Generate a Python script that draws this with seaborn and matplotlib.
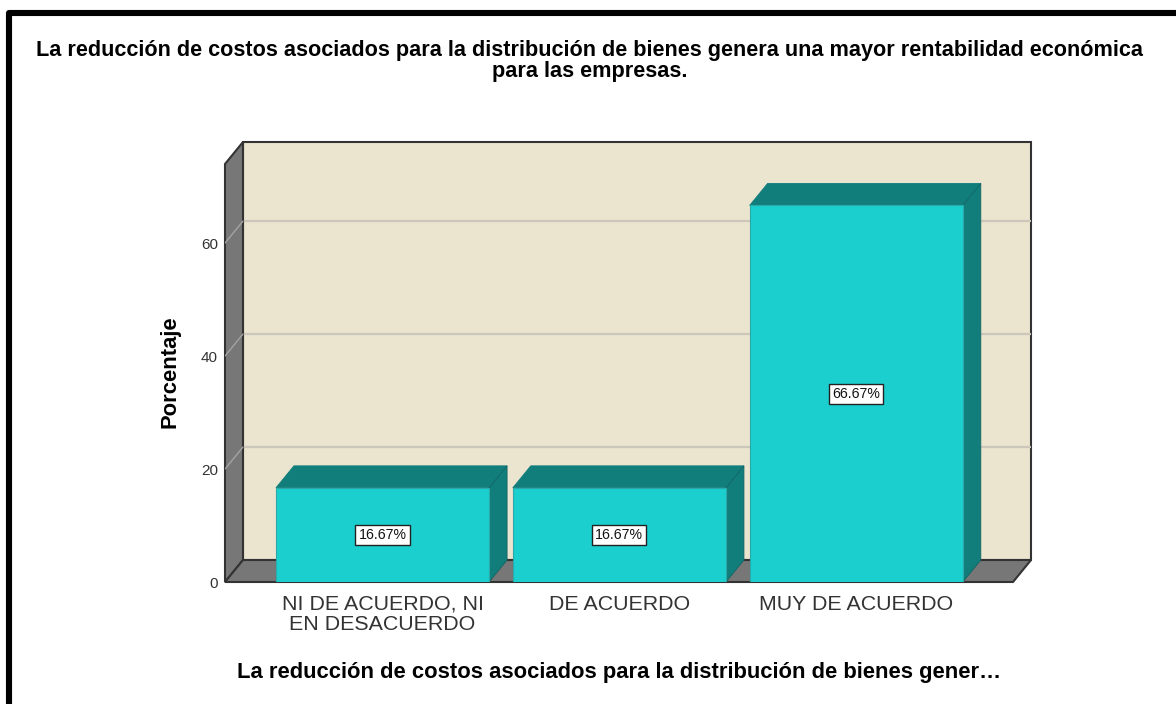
import matplotlib
matplotlib.use("Agg")
import matplotlib.pyplot as plt
import seaborn as sns
from matplotlib.lines import Line2D

sns.set_style("white")
plt.rcParams['font.family'] = ['Liberation Sans', 'DejaVu Sans']

title = ("La reducción de costos asociados para la distribución de bienes genera una mayor rentabilidad económica\n"
         "para las empresas.")
x_title = "La reducción de costos asociados para la distribución de bienes gener…"
y_title = "Porcentaje"
categories = ["NI DE ACUERDO, NI\nEN DESACUERDO", "DE ACUERDO", "MUY DE ACUERDO"]
values = [16.67, 16.67, 66.67]
y_ticks = [0, 20, 40, 60]

# colours
WALL = "#EBE4CF"
GREY = "#777777"
EDGE = "#333333"
GRID = "#CBC7BA"
DIAG = "#A3A3A3"
BAR = "#1BCFCF"
BAR_DARK = "#127E7C"

# pseudo 3d box, in data units
bar_width = 0.9
depth_x = 18 / 237
depth_y = 22 / 5.65
x_left = -0.665
x_right = 2.662
y_top = 74

W, H = 1176, 704
fig = plt.figure(figsize=(W / 100, H / 100), dpi=100, facecolor="white")
ax = fig.add_axes([225 / W, (H - 582) / H, 806 / W, 440 / H])
ax.patch.set_visible(False)

# walls and floor
ax.fill([x_left + depth_x, x_right + depth_x, x_right + depth_x, x_left + depth_x],
        [depth_y, depth_y, y_top + depth_y, y_top + depth_y],
        facecolor=WALL, edgecolor=EDGE, lw=1.5, zorder=1, clip_on=False)
for t in y_ticks[1:]:
    ax.plot([x_left + depth_x, x_right + depth_x], [t + depth_y, t + depth_y], color=GRID, lw=1.6, zorder=1.5)
ax.fill([x_left, x_left + depth_x, x_left + depth_x, x_left],
        [0, depth_y, y_top + depth_y, y_top],
        facecolor=GREY, edgecolor=EDGE, lw=1.5, zorder=2, clip_on=False)
ax.fill([x_left, x_right, x_right + depth_x, x_left + depth_x],
        [0, 0, depth_y, depth_y],
        facecolor=GREY, edgecolor=EDGE, lw=1.5, zorder=2, clip_on=False)
for t in y_ticks[1:]:
    ax.plot([x_left, x_left + depth_x], [t, t + depth_y], color=DIAG, lw=1, zorder=2.5)

# bars: front faces from seaborn, top and side faces from the same values
sns.barplot(x=categories, y=values, color=BAR, saturation=1, width=bar_width, ax=ax,
            edgecolor="#2AA9A8", linewidth=0.8, zorder=4)
for i, v in enumerate(values):
    left = i - bar_width / 2
    right = i + bar_width / 2
    ax.fill([left, right, right + depth_x, left + depth_x], [v, v, v + depth_y, v + depth_y],
            facecolor=BAR_DARK, edgecolor=BAR_DARK, lw=0.6, zorder=3)
    ax.fill([right, right + depth_x, right + depth_x, right], [0, depth_y, v + depth_y, v],
            facecolor=BAR_DARK, edgecolor="#0F6563", lw=0.6, zorder=3)
    ax.text(i, v / 2, f"{v:.2f}%", ha="center", va="center", fontsize=10.2, color="#111111", zorder=5,
            bbox=dict(boxstyle="square,pad=0.22", facecolor="white", edgecolor="#222222", lw=1))

ax.set_xlim(x_left, x_right + depth_x)
ax.set_ylim(0, y_top + depth_y)
ax.set_yticks(y_ticks)
ax.set_xticks(range(len(categories)))
ax.set_xticklabels(categories, fontsize=15.4, color="#333333", linespacing=1.1)
ax.tick_params(axis="x", length=0, pad=9)
ax.tick_params(axis="y", length=0, pad=5, labelsize=11, labelcolor="#333333")
sns.despine(ax=ax, left=True, bottom=True)

ax.set_ylabel(y_title, fontsize=15.8, fontweight="bold", color="black", y=0.478, labelpad=14.5)
ax.set_xlabel(x_title, fontsize=15.8, fontweight="bold", color="black", x=0.489, labelpad=20.5)
fig.suptitle(title, x=590 / W, y=1 - 40 / H, fontsize=15.6, fontweight="bold", color="black",
             va="top", linespacing=1.0)

# black frame, left and top only
fig.add_artist(Line2D([9 / W, 9 / W, 1], [0, 1 - 13 / H, 1 - 13 / H], color="black", lw=4.4,
                      solid_joinstyle="round", transform=fig.transFigure))

fig.savefig("out.png", dpi=100)
